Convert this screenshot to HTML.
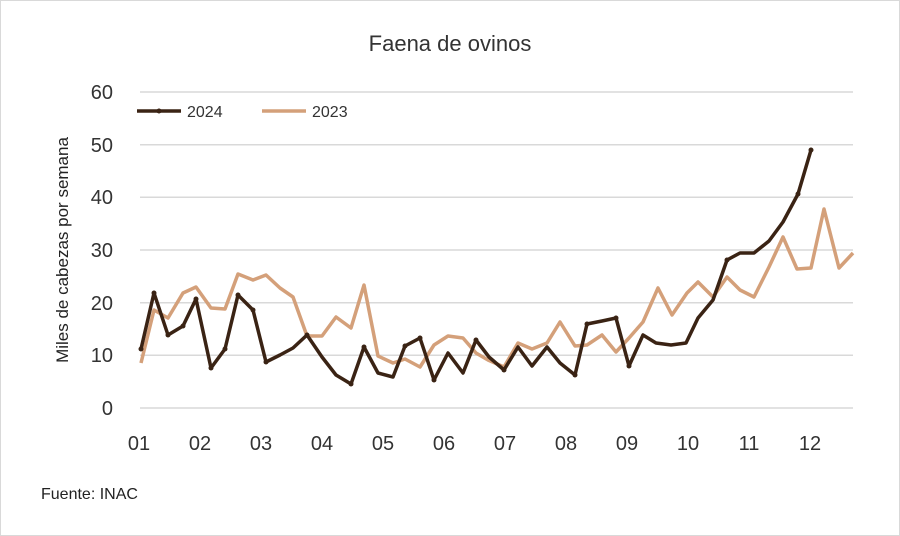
<!DOCTYPE html>
<html><head><meta charset="utf-8"><style>
body{margin:0;background:#fff}
svg{display:block;font-family:"Liberation Sans",sans-serif}
</style></head><body>
<svg width="900" height="536" viewBox="0 0 900 536">
<rect x="0.5" y="0.5" width="899" height="535" fill="#fff" stroke="#d9d9d9"/>
<text x="450" y="51" text-anchor="middle" font-size="22" fill="#333">Faena de ovinos</text>
<g stroke="#d9d9d9" stroke-width="1.5">
<line x1="140" x2="853" y1="92" y2="92"/><line x1="140" x2="853" y1="144.7" y2="144.7"/>
<line x1="140" x2="853" y1="197.3" y2="197.3"/><line x1="140" x2="853" y1="250" y2="250"/>
<line x1="140" x2="853" y1="302.7" y2="302.7"/><line x1="140" x2="853" y1="355.3" y2="355.3"/>
<line x1="140" x2="853" y1="408" y2="408"/>
</g>
<g font-size="20" fill="#333" text-anchor="end">
<text x="113" y="99">60</text><text x="113" y="152">50</text><text x="113" y="204">40</text>
<text x="113" y="257">30</text><text x="113" y="310">20</text><text x="113" y="362">10</text><text x="113" y="415">0</text>
</g>
<g font-size="20" fill="#333" text-anchor="middle">
<text x="139" y="450">01</text><text x="200" y="450">02</text><text x="261" y="450">03</text><text x="322" y="450">04</text>
<text x="383" y="450">05</text><text x="444" y="450">06</text><text x="505" y="450">07</text><text x="566" y="450">08</text>
<text x="627" y="450">09</text><text x="688" y="450">10</text><text x="749" y="450">11</text><text x="810" y="450">12</text>
</g>
<text transform="translate(68,250) rotate(-90)" text-anchor="middle" font-size="17" fill="#222">Miles de cabezas por semana</text>
<text x="41" y="499" font-size="16" fill="#222">Fuente: INAC</text>
<line x1="137" x2="181" y1="111" y2="111" stroke="#3a2314" stroke-width="3.5"/>
<circle cx="159" cy="111" r="2.5" fill="#3a2314"/>
<text x="187" y="117" font-size="16" fill="#333">2024</text>
<line x1="262" x2="306" y1="111" y2="111" stroke="#d4a07a" stroke-width="3.5"/>
<text x="312" y="117" font-size="16" fill="#333">2023</text>
<polyline fill="none" stroke="#d4a07a" stroke-width="3.5" stroke-linejoin="round" points="141,363 154,310 168,318 183,293 196,287 211,308 225,309 238,274 253,280 266,275 280,288 293,297 307,336 322,336 336,317 351,328 364,285 378,356 393,363 405,359 420,367 434,345 448,336 463,338 476,353 488,360 504,367 518,343 532,349 547,343 560,322 575,346 587,345 602,335 616,352 629,338 643,322 658,288 672,315 687,293 698,282 713,297 727,277 740,290 754,297 769,267 783,237 797,269 811,268 824,209 839,268 853,253"/>
<polyline fill="none" stroke="#3a2314" stroke-width="3.5" stroke-linejoin="round" points="141,349 154,293 168,335 183,326 196,299 211,368 225,349 238,295 253,310 266,362 280,355 293,348 307,335 322,357 336,375 351,384 364,347 378,373 393,377 405,346 420,338 434,380 448,353 463,373 476,340 489,357 504,370 518,347 532,366 547,347 560,363 575,375 587,324 602,321 616,318 629,366 643,335 656,343 671,345 686,343 698,318 713,300 727,260 740,253 754,253 769,241 783,222 798,194 811,150"/>
<g fill="#3a2314">
<circle cx="141" cy="349" r="2.5"/><circle cx="154" cy="293" r="2.5"/><circle cx="168" cy="335" r="2.5"/><circle cx="183" cy="326" r="2.5"/><circle cx="196" cy="299" r="2.5"/><circle cx="211" cy="368" r="2.5"/><circle cx="225" cy="349" r="2.5"/><circle cx="238" cy="295" r="2.5"/><circle cx="253" cy="310" r="2.5"/><circle cx="266" cy="362" r="2.5"/><circle cx="307" cy="335" r="2.5"/><circle cx="351" cy="384" r="2.5"/><circle cx="364" cy="347" r="2.5"/><circle cx="405" cy="346" r="2.5"/><circle cx="420" cy="338" r="2.5"/><circle cx="434" cy="380" r="2.5"/><circle cx="476" cy="340" r="2.5"/><circle cx="504" cy="370" r="2.5"/><circle cx="575" cy="375" r="2.5"/><circle cx="587" cy="324" r="2.5"/><circle cx="616" cy="318" r="2.5"/><circle cx="629" cy="366" r="2.5"/><circle cx="727" cy="260" r="2.5"/><circle cx="798" cy="194" r="2.5"/><circle cx="811" cy="150" r="2.5"/>
</g>
</svg>
</body></html>
